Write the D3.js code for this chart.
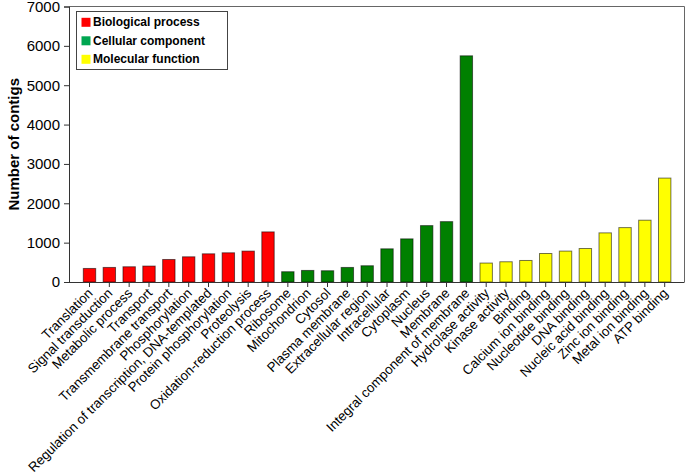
<!DOCTYPE html>
<html>
<head>
<meta charset="utf-8">
<script src="https://cdn.jsdelivr.net/npm/d3@7/dist/d3.min.js"></script>
<style>
  html, body { margin: 0; padding: 0; background: #fff; }
  svg { display: block; font-family: "Liberation Sans", Arial, sans-serif; }
</style>
</head>
<body>
<svg id="chart" width="685" height="472"></svg>
<script>
const categories = [
  "Translation", "Signal transduction", "Metabolic process", "Transport",
  "Transmembrane transport", "Phosphorylation", "Regulation of transcription, DNA-templated",
  "Protein phosphorylation", "Proteolysis", "Oxidation-reduction process",
  "Ribosome", "Mitochondrion", "Cytosol", "Plasma membrane", "Extracellular region",
  "Intracellular", "Cytoplasm", "Nucleus", "Membrane", "Integral component of membrane",
  "Hydrolase activity", "Kinase activity", "Binding", "Calcium ion binding",
  "Nucleotide binding", "DNA binding", "Nucleic acid binding", "Zinc ion binding",
  "Metal ion binding", "ATP binding"
];
const values = [
  344, 370, 387, 405, 572, 640, 716, 742, 785, 1273,
  261, 294, 286, 370, 413, 843, 1096, 1433, 1534, 5747,
  481, 514, 547, 724, 785, 851, 1248, 1382, 1570, 2640
];
const groups = [
  "Biological process","Biological process","Biological process","Biological process","Biological process",
  "Biological process","Biological process","Biological process","Biological process","Biological process",
  "Cellular component","Cellular component","Cellular component","Cellular component","Cellular component",
  "Cellular component","Cellular component","Cellular component","Cellular component","Cellular component",
  "Molecular function","Molecular function","Molecular function","Molecular function","Molecular function",
  "Molecular function","Molecular function","Molecular function","Molecular function","Molecular function"
];
const legendLabels = ["Biological process", "Cellular component", "Molecular function"];
const barColors = ["#ff0000", "#008000", "#ffff00"];
const legendColors = ["#ff0000", "#00a651", "#ffff00"];
const yTicks = [0, 1000, 2000, 3000, 4000, 5000, 6000, 7000];

const svg = d3.select("#chart");
const mLeft = 69, mRight = 684, mTop = 6.5, mBottom = 282;

const firstC = 89.5, lastC = 664.7;
const step = (lastC - firstC) / (categories.length - 1);
const x = d3.scaleBand()
  .domain(categories)
  .range([firstC - step / 2, lastC + step / 2])
  .paddingInner(0.375)
  .paddingOuter(0.1875);
const y = d3.scaleLinear().domain([0, 7000]).range([mBottom, mTop]);
const color = d3.scaleOrdinal().domain(legendLabels).range(barColors);

// frame top/right
svg.append("path")
  .attr("d", `M${mLeft},${mTop}H${mRight + 0.5}V${mBottom}`)
  .attr("fill", "none").attr("stroke", "#666").attr("stroke-width", 1);

// bars
const data = categories.map((c, i) => ({ c, v: values[i], g: groups[i] }));
svg.append("g").selectAll("rect").data(data).join("rect")
  .attr("x", d => x(d.c))
  .attr("y", d => y(d.v))
  .attr("width", x.bandwidth())
  .attr("height", d => y(0) - y(d.v))
  .attr("fill", d => color(d.g))
  .attr("stroke", "rgba(0,0,0,0.55)")
  .attr("stroke-width", 1);

// y axis
const yAxis = svg.append("g")
  .attr("transform", `translate(${mLeft},0)`)
  .call(d3.axisLeft(y).tickValues(yTicks).tickSize(5).tickPadding(4).tickFormat(d3.format("d")));
yAxis.selectAll("text").attr("font-size", 15).attr("fill", "#000")
  .attr("font-family", "'Liberation Sans', Arial, sans-serif");
yAxis.selectAll("line,path").attr("stroke", "#333");

// x axis
const xAxis = svg.append("g")
  .attr("transform", `translate(0,${mBottom})`)
  .call(d3.axisBottom(x).tickSize(5).tickSizeOuter(0));
xAxis.select(".domain").attr("d", `M${mLeft},0.5H${mRight + 0.5}`);
xAxis.selectAll("line,path").attr("stroke", "#333");
xAxis.selectAll("text")
  .attr("font-size", 13.3).attr("fill", "#000")
  .attr("font-family", "'Liberation Sans', Arial, sans-serif")
  .attr("text-anchor", "end")
  .attr("dy", null)
  .attr("y", 0)
  .attr("transform", "translate(4,12) rotate(-45)");

// y title
svg.append("text")
  .attr("transform", `translate(13,${(mTop + mBottom) / 2}) rotate(-90)`)
  .attr("text-anchor", "middle")
  .attr("dominant-baseline", "central")
  .attr("font-size", 15).attr("font-weight", "bold")
  .text("Number of contigs");

// legend
const lg = svg.append("g");
lg.append("rect").attr("x", 76.5).attr("y", 11.5).attr("width", 151).attr("height", 58)
  .attr("fill", "#fff").attr("stroke", "#444").attr("stroke-width", 1);
legendLabels.forEach((l, i) => {
  const cy = 22.3 + i * 18.5;
  lg.append("rect").attr("x", 81.5).attr("y", cy - 4.5).attr("width", 9).attr("height", 9)
    .attr("fill", legendColors[i]);
  lg.append("text").attr("x", 93).attr("y", cy).attr("dominant-baseline", "central")
    .attr("font-size", 12).attr("font-weight", "bold").text(l);
});
</script>
</body>
</html>
